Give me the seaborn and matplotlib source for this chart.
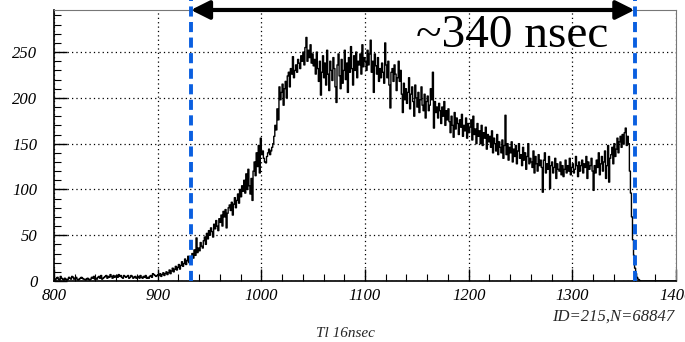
"""ROOT-style timing histogram (Tl 16nsec) redrawn with seaborn."""

import numpy as np
import pandas as pd
import seaborn as sns
import matplotlib.pyplot as plt
from matplotlib.ticker import MultipleLocator

# 1 ns bins from 800 to 1400 ns
bin_lo = 800
bin_hi = 1400
counts = [
    2, 1, 3, 4, 2, 1, 5, 3, 2, 1,
    3, 2, 1, 2, 4, 3, 2, 5, 4, 2,
    3, 4, 2, 1, 2, 3, 4, 3, 2, 2,
    1, 2, 3, 2, 1, 2, 4, 3, 5, 2,
    3, 2, 4, 5, 3, 6, 2, 3, 4, 5,
    6, 3, 5, 4, 7, 5, 3, 6, 4, 5,
    6, 4, 7, 5, 6, 4, 3, 6, 5, 4,
    5, 6, 3, 4, 6, 5, 3, 4, 5, 3,
    4, 5, 3, 6, 4, 3, 5, 4, 6, 3,
    4, 3, 5, 6, 4, 8, 7, 6, 5, 6,
    7, 6, 8, 5, 7, 9, 6, 8, 10, 7,
    9, 12, 8, 11, 14, 10, 13, 16, 12, 15,
    18, 13, 17, 21, 16, 19, 24, 18, 22, 27,
    20, 26, 23, 30, 25, 34, 28, 47, 31, 36,
    33, 42, 38, 36, 44, 48, 40, 52, 46, 55,
    50, 58, 54, 48, 62, 57, 66, 60, 55, 68,
    64, 72, 60, 76, 70, 78, 58, 74, 80, 83,
    77, 86, 72, 84, 91, 80, 88, 95, 85, 100,
    92, 104, 98, 110, 96, 117, 100, 122, 104, 95,
    112, 88, 120, 130, 115, 140, 125, 148, 118, 156,
    138, 142, 134, 130, 129, 136, 140, 144, 138, 142,
    146, 150, 158, 170, 165, 188, 176, 212, 198, 206,
    215, 192, 210, 218, 200, 224, 228, 212, 232, 226,
    245, 222, 230, 236, 228, 242, 238, 232, 246, 240,
    250, 236, 255, 266, 240, 252, 244, 258, 238, 248,
    235, 242, 226, 250, 232, 218, 240, 203, 228, 246,
    222, 238, 214, 252, 226, 208, 240, 230, 219, 244,
    232, 212, 195, 236, 248, 224, 210, 242, 216, 230,
    252, 220, 238, 206, 244, 228, 256, 232, 214, 246,
    230, 250, 222, 240, 236, 248, 226, 258, 234, 244,
    240, 230, 252, 236, 248, 263, 228, 240, 206, 248,
    235, 226, 244, 218, 232, 222, 238, 228, 216, 260,
    236, 222, 240, 214, 189, 228, 232, 218, 236, 226,
    208, 222, 240, 218, 230, 204, 184, 216, 198, 210,
    194, 206, 222, 188, 204, 212, 196, 180, 214, 200,
    190, 206, 184, 198, 212, 192, 186, 204, 178, 196,
    202, 186, 192, 210, 198, 228, 167, 196, 184, 190,
    178, 194, 186, 172, 190, 180, 196, 170, 186, 176,
    188, 174, 162, 180, 170, 157, 184, 166, 178, 172,
    160, 176, 168, 182, 158, 170, 164, 178, 156, 172,
    162, 168, 176, 154, 180, 160, 166, 150, 172, 158,
    164, 150, 170, 148, 162, 156, 168, 144, 160, 152,
    158, 146, 164, 140, 156, 150, 142, 160, 138, 152,
    146, 140, 154, 134, 148, 181, 138, 150, 132, 146,
    140, 152, 130, 144, 136, 148, 128, 142, 150, 134,
    138, 126, 146, 132, 140, 122, 136, 150, 128, 134,
    130, 124, 142, 118, 136, 128, 120, 138, 126, 132,
    124, 97, 132, 140, 118, 128, 122, 136, 101, 126,
    130, 118, 124, 134, 112, 128, 122, 120, 130, 116,
    126, 114, 122, 132, 118, 126, 120, 134, 116, 124,
    128, 118, 122, 136, 126, 114, 130, 120, 126, 132,
    118, 128, 124, 136, 112, 130, 122, 126, 134, 120,
    99, 126, 118, 132, 124, 140, 116, 128, 136, 120,
    130, 142, 112, 126, 148, 108, 134, 138, 146, 128,
    150, 136, 144, 156, 140, 152, 158, 146, 160, 150,
    162, 167, 148, 158, 150, 120, 96, 70, 45, 28,
    14, 8, 4, 2, 1, 0, 0, 0, 0, 0,
    0, 0, 0, 0, 0, 0, 0, 0, 0, 0,
    0, 0, 0, 0, 0, 0, 0, 0, 0, 0,
    0, 0, 0, 0, 0, 0, 0, 0, 0, 0,
]

# window markers and annotation
window_start = 932
window_end = 1360
window_label = "~340 nsec"
stats_label = "ID=215,N=68847"
x_title = "Tl 16nsec"
y_max = 296


def main():
    sns.set_style("white")
    plt.rcParams['font.family'] = ['Liberation Serif', 'DejaVu Serif']
    # ROOT draws its axis labels in Times italic
    plt.rcParams['font.style'] = 'italic'

    n_bins = len(counts)
    centers = bin_lo + 0.5 + np.arange(n_bins)
    df = pd.DataFrame({'t': centers, 'n': np.asarray(counts, dtype=float)})

    fig = plt.figure(figsize=(6.85, 3.42), dpi=100)
    ax = fig.add_axes([0.0788, 0.1784, 0.9081, 0.7924])

    sns.histplot(data=df, x='t', weights='n', bins=n_bins,
                 binrange=(bin_lo, bin_hi), element='step',
                 fill=False, color='black', linewidth=1.0, ax=ax)

    ax.set_xlim(bin_lo, bin_hi)
    ax.set_ylim(0, y_max)
    ax.set_xlabel('')
    ax.set_ylabel('')

    # ROOT-like ticks and dotted grid
    ax.xaxis.set_major_locator(MultipleLocator(100))
    ax.xaxis.set_minor_locator(MultipleLocator(20))
    ax.yaxis.set_major_locator(MultipleLocator(50))
    ax.yaxis.set_minor_locator(MultipleLocator(10))
    ax.tick_params(which='major', direction='in', length=9, width=1,
                   color='black', labelsize=12, labelcolor='black')
    ax.tick_params(which='minor', direction='in', length=5, width=0.8,
                   color='black')
    ax.tick_params(axis='y', which='both', left=True, pad=12)
    ax.tick_params(axis='x', which='both', bottom=True, pad=5)
    ax.grid(True, which='major', color='black', linestyle=(0, (1, 2.5)),
            linewidth=0.9)
    ax.set_axisbelow(True)

    ax.spines['left'].set_color('black')
    ax.spines['bottom'].set_color('black')
    ax.spines['left'].set_linewidth(1.2)
    ax.spines['bottom'].set_linewidth(1.2)
    ax.spines['top'].set_color('#777777')
    ax.spines['right'].set_color('#777777')

    # window markers
    for xv in (window_start, window_end):
        ax.plot([xv, xv], [0, 308], color='#0a5fe0', linewidth=2.8,
                linestyle=(0, (2.6, 1.4)), clip_on=False, zorder=5)

    ax.annotate('', xy=(window_start, y_max), xytext=(window_end, y_max),
                arrowprops=dict(arrowstyle='<|-|>', color='black', lw=3,
                                mutation_scale=28, shrinkA=0, shrinkB=0),
                annotation_clip=False, zorder=6)
    ax.text(1242, 256, window_label, fontsize=34, style='normal',
            ha='center', va='baseline', color='black', zorder=6)

    fig.text(0.984, 0.073, stats_label, fontsize=12, style='italic',
             ha='right', va='center')
    fig.text(0.504, 0.026, x_title, fontsize=11, style='italic',
             ha='center', va='center')

    fig.savefig('out.png', dpi=100, facecolor='white')
    plt.close(fig)


if __name__ == "__main__":
    main()
